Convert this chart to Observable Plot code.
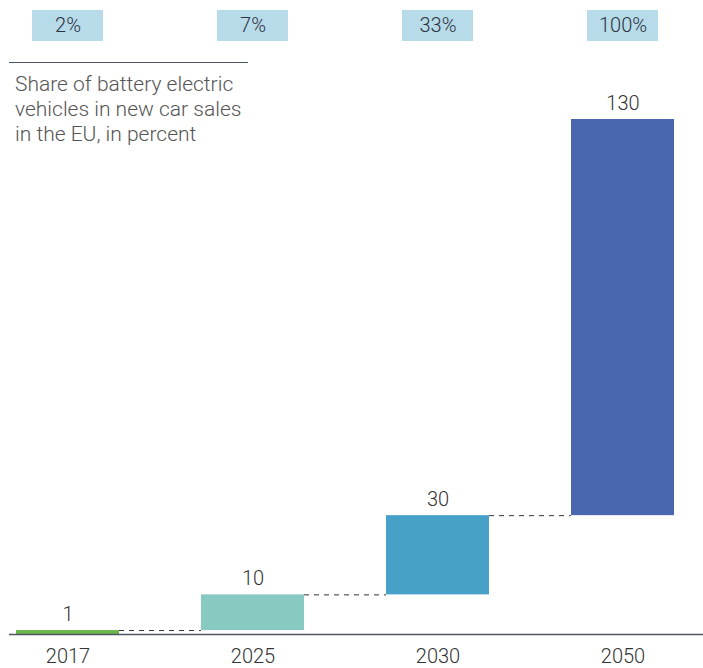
<!DOCTYPE html>
<html><head><meta charset="utf-8">
<script src="https://cdn.jsdelivr.net/npm/d3@7"></script>
<script src="https://cdn.jsdelivr.net/npm/@observablehq/plot@0.6"></script>
<style>
body{margin:0;background:#fff;}
#wrap{position:relative;width:703px;height:668px;font-family:Roboto,sans-serif;}
#wrap svg{display:block;}
#note{position:absolute;left:9px;top:62px;width:239px;border-top:1.5px solid #4d5565;padding:9px 0 0 6px;box-sizing:border-box;font-size:21px;line-height:25px;color:#555;font-weight:300;white-space:nowrap;}
</style></head><body>
<div id="wrap"><div id="topRow"></div><div id="mainChart"></div><div id="note">Share of battery electric<br>vehicles in new car sales<br>in the EU, in percent</div></div>
<script>
const years = ["2017", "2025", "2030", "2050"];
const values = [1, 10, 30, 130];
const shares = ["2%", "7%", "33%", "100%"];
const colors = ["#6db64c", "#88c9c1", "#46a0c8", "#4a66ae"];

const data = years.map((year, i) => ({year, start: i ? values[i - 1] : 0, value: values[i], share: shares[i]}));
const links = years.slice(0, -1).map((year, i) => ({from: year, to: years[i + 1], value: values[i]}));

const xScale = {domain: years, paddingInner: 0.443, paddingOuter: 0.093, align: 0.2};
const common = {width: 703, marginLeft: 9, marginRight: 0};

const topPlot = Plot.plot({
  ...common, height: 41, marginTop: 10, marginBottom: 0,
  x: {...xScale, axis: null},
  style: {fontFamily: "Roboto, sans-serif", background: "transparent"},
  marks: [
    Plot.cell(data, {x: "year", fill: "#b8dbea", insetLeft: 16, insetRight: 16}),
    Plot.text(data, {x: "year", text: "share", frameAnchor: "middle", fontSize: 20, fontWeight: 300, fill: "#2b3340"})
  ]
});

const mainPlot = Plot.plot({
  ...common, height: 627, marginTop: 78, marginBottom: 34,
  x: xScale,
  y: {domain: [0, 130], axis: null},
  color: {domain: years, range: colors},
  style: {fontFamily: "Roboto, sans-serif", color: "#333", background: "transparent"},
  marks: [
    Plot.ruleY(links, {y: "value", x1: "from", x2: "to", insetLeft: 103, insetRight: 103, stroke: "#333", strokeWidth: 1, strokeDasharray: "5,5"}),
    Plot.barY(data, {x: "year", y1: "start", y2: "value", fill: "year"}),
    Plot.ruleY([0], {stroke: "#4d5565", strokeWidth: 1.5}),
    Plot.text(data, {x: "year", y: "value", text: (d) => String(d.value), lineAnchor: "bottom", dy: -10, fontSize: 20, fontWeight: 300, fill: "#333"}),
    Plot.axisX({tickSize: 0, tickPadding: 14, fontSize: 20, fontWeight: 300, label: null})
  ]
});

document.getElementById("topRow").append(topPlot);
document.getElementById("mainChart").append(mainPlot);
</script>
</body></html>
